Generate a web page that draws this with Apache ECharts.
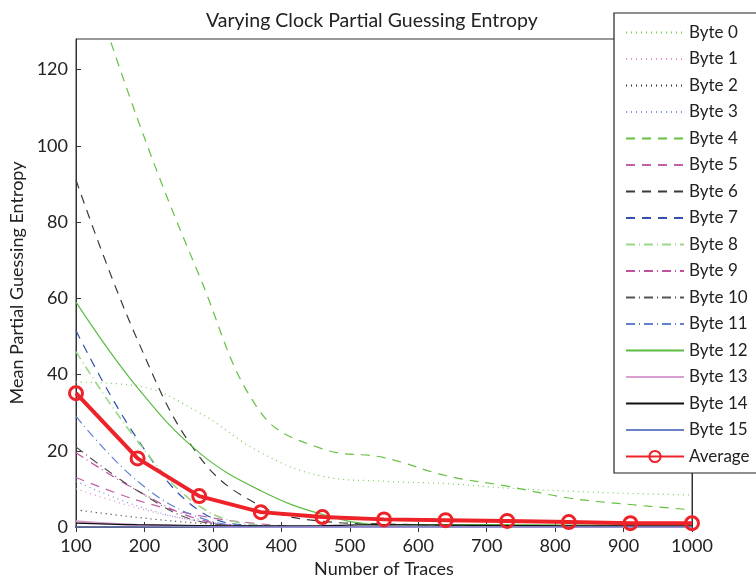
<!DOCTYPE html>
<html>
<head>
<meta charset="utf-8">
<script src="https://cdn.jsdelivr.net/npm/echarts@6/dist/echarts.min.js"></script>
<style>html,body{margin:0;padding:0;background:#fff}#chart{width:756px;height:577px}</style>
</head>
<body>
<div id="chart"></div>
<script>
// ---- data ----
const traces = [100, 190, 280, 370, 460, 550, 640, 730, 820, 910, 1000];
const xTickLabels = [100, 200, 300, 400, 500, 600, 700, 800, 900, 1000];
const yTickLabels = [0, 20, 40, 60, 80, 100, 120];
const seriesNames = ['Byte 0','Byte 1','Byte 2','Byte 3','Byte 4','Byte 5','Byte 6','Byte 7','Byte 8','Byte 9','Byte 10','Byte 11','Byte 12','Byte 13','Byte 14','Byte 15','Average'];

const byte0  = [38, 37, 30, 19.5, 13.3, 12, 11.4, 10.2, 9.4, 8.8, 8.4];
const byte1  = [10, 5, 1.5, 0.2, 0, 0, 0, 0, 0, 0, 0];
const byte2  = [4.5, 2.5, 1, 0.3, 0, 0, 0, 0, 0, 0, 0];
const byte3  = [12, 5.5, 1.5, 0.3, 0, 0, 0, 0, 0, 0, 0];
const byte4  = [155, 107, 66, 30, 20.5, 18.2, 13.5, 10.7, 7.6, 5.9, 4.5];
const byte5  = [13, 7, 3, 0.8, 0, 0, 0, 0, 0, 0, 0];
const byte6  = [91, 49, 18.5, 5.5, 1.5, 0.8, 0.5, 0.4, 0.3, 0.2, 0.2];
const byte7  = [51.5, 23, 4.3, 0.3, 0, 0, 0, 0, 0, 0, 0];
const byte8  = [46, 22.5, 5.5, 0.5, 0, 0, 0, 0, 0, 0, 0];
const byte9  = [19.5, 9.5, 2, 0.2, 0, 0, 0, 0, 0, 0, 0];
const byte10 = [21, 9.5, 1.5, 0.1, 0, 0, 0, 0, 0, 0, 0];
const byte11 = [29, 12, 2.5, 0.2, 0, 0, 0, 0, 0, 0, 0];
const byte12 = [59, 36.5, 19.5, 9.5, 3.3, 0.6, 0.6, 0.6, 0.5, 0.5, 0.5];
const byte13 = [1.5, 0.5, 0.2, 0, 0, 0, 0, 0, 0, 0, 0];
const byte14 = [1, 0.6, 0.4, 0.3, 0.4, 0.6, 0.5, 0.4, 0.3, 0.3, 0.3];
const byte15 = [0, 0, 0, 0, 0, 0, 0, 0, 0, 0, 0];
const average = [35.1, 18, 8.1, 3.9, 2.6, 2.0, 1.8, 1.6, 1.3, 1.0, 1.0];

const byteData = [byte0, byte1, byte2, byte3, byte4, byte5, byte6, byte7, byte8, byte9, byte10, byte11, byte12, byte13, byte14, byte15];

// ---- styles ----
const DOT = [1, 4], DASH = [9, 7], DASHDOT = [9, 4, 1, 4];
const styles = [
  {c:'#77cc55', t:DOT, w:1.2},
  {c:'#e090d0', t:DOT, w:1.2},
  {c:'#333333', t:DOT, w:1.2},
  {c:'#7a90e0', t:DOT, w:1.2},
  {c:'#66c040', t:DASH, w:1.2},
  {c:'#c060a8', t:DASH, w:1.2},
  {c:'#3a3a3a', t:DASH, w:1.2},
  {c:'#3050b0', t:DASH, w:1.2},
  {c:'#99d888', t:DASHDOT, w:1.6},
  {c:'#c050a0', t:DASHDOT, w:1.2},
  {c:'#555555', t:DASHDOT, w:1.2},
  {c:'#6080d0', t:DASHDOT, w:1.2},
  {c:'#5cbb40', t:'solid', w:1.2},
  {c:'#d8a0d0', t:'solid', w:2.2},
  {c:'#111111', t:'solid', w:1.2},
  {c:'#6a80c8', t:'solid', w:1.6}
];

const FONT = 'Lato';
const series = byteData.map((d, i) => ({
  name: seriesNames[i],
  type: 'line',
  data: d.map((v, j) => [traces[j], v]),
  smooth: 0.4,
  symbol: 'none',
  silent: true,
  z: 2,
  lineStyle: {color: styles[i].c, type: styles[i].t, width: styles[i].w},
  itemStyle: {color: styles[i].c}
}));
series.push({
  name: 'Average',
  type: 'line',
  data: average.map((v, j) => [traces[j], v]),
  symbol: 'circle',
  symbolSize: 13,
  z: 5,
  lineStyle: {color: '#ee2229', width: 4},
  itemStyle: {color: 'rgba(255,255,255,0)', borderColor: '#ee2229', borderWidth: 3}
});

const legendData = seriesNames.map((n, i) => i < 16 ? {name: n, itemStyle: {opacity: 0}} : {name: n});

const chart = echarts.init(document.getElementById('chart'));
chart.setOption({
  animation: false,
  backgroundColor: '#fff',
  textStyle: {fontFamily: FONT},
  title: {
    text: 'Varying Clock Partial Guessing Entropy',
    left: 201, top: 6,
    textStyle: {fontFamily: FONT, fontSize: 19.5, fontWeight: 'normal', color: '#222'}
  },
  grid: {left: 76, right: 64, top: 39, bottom: 50, show: true, borderColor: '#333', borderWidth: 1,
    containLabel: false, outerBoundsMode: 'none'},
  legend: {
    orient: 'vertical',
    left: 614, top: 13,
    padding: [11, 60, 8, 11],
    itemWidth: 58, itemHeight: 14, itemGap: 9.5,
    borderColor: '#222', borderWidth: 1.2,
    backgroundColor: '#fff',
    data: legendData,
    textStyle: {fontFamily: FONT, fontSize: 17, color: '#222'},
    z: 10
  },
  xAxis: [{
    type: 'value', min: 100, max: 1000, interval: 100,
    name: 'Number of Traces', nameLocation: 'middle', nameGap: 29,
    nameTextStyle: {fontFamily: FONT, fontSize: 18, color: '#222'},
    axisLine: {lineStyle: {color: '#333'}},
    axisTick: {inside: true, length: 5, lineStyle: {color: '#333'}},
    axisLabel: {fontFamily: FONT, fontSize: 18, color: '#222', margin: 10,
      formatter: v => xTickLabels.includes(v) ? String(v) : ''},
    splitLine: {show: false}
  }, {
    type: 'value', min: 100, max: 1000, interval: 100, position: 'top',
    axisLine: {lineStyle: {color: '#444', width: 2}},
    axisTick: {inside: true, length: 5, lineStyle: {color: '#333'}},
    axisLabel: {show: false}, splitLine: {show: false}
  }],
  yAxis: [{
    type: 'value', min: 0, max: 128, interval: 20,
    name: 'Mean Partial Guessing Entropy', nameLocation: 'middle', nameGap: 49,
    nameTextStyle: {fontFamily: FONT, fontSize: 18, color: '#222'},
    axisLine: {show: true, lineStyle: {color: '#333'}},
    axisTick: {inside: true, length: 5, lineStyle: {color: '#333'}},
    axisLabel: {fontFamily: FONT, fontSize: 18, color: '#222', margin: 8, showMaxLabel: false,
      formatter: v => yTickLabels.includes(v) ? String(v) : ''},
    splitLine: {show: false}
  }, {
    type: 'value', min: 0, max: 128, interval: 20, position: 'right',
    axisLine: {show: true, lineStyle: {color: '#333'}},
    axisTick: {inside: true, length: 5, lineStyle: {color: '#333'}},
    axisLabel: {show: false}, splitLine: {show: false}
  }],
  series: series
});
</script>
</body>
</html>
